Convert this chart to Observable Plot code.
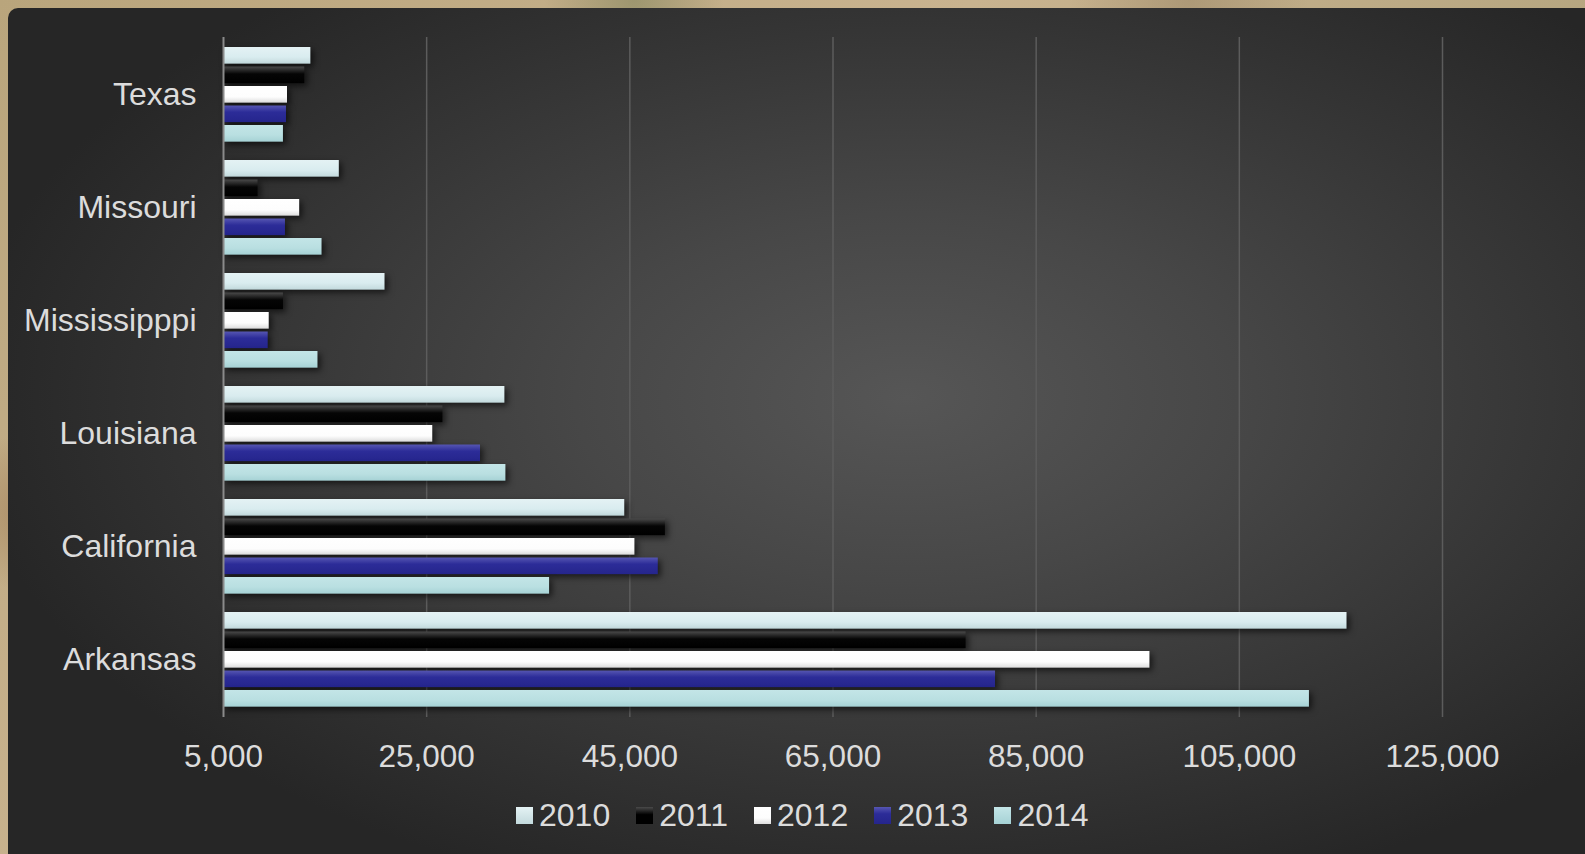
<!DOCTYPE html>
<html>
<head>
<meta charset="utf-8">
<script src="https://cdn.jsdelivr.net/npm/d3@7"></script>
<script src="https://cdn.jsdelivr.net/npm/@observablehq/plot@0.6"></script>
<style>
html, body { margin: 0; padding: 0; width: 1585px; height: 854px; overflow: hidden;
  background:
    radial-gradient(circle at 5% 20%, rgba(120,130,90,0.5) 0, rgba(120,130,90,0) 60px),
    radial-gradient(circle at 2% 60%, rgba(150,110,70,0.5) 0, rgba(150,110,70,0) 80px),
    radial-gradient(circle at 40% 0%, rgba(110,120,80,0.45) 0, rgba(110,120,80,0) 90px),
    radial-gradient(circle at 75% 0%, rgba(140,120,90,0.4) 0, rgba(140,120,90,0) 120px),
    linear-gradient(135deg, #b9a57c 0%, #c9b38f 40%, #b3a47e 70%, #c6ad88 100%);
  font-family: "Liberation Sans", Arial, sans-serif; }
#panel { position: absolute; left: 8px; top: 8px; width: 1577px; height: 846px; border-top-left-radius: 10px;
  background: radial-gradient(ellipse 60% 62% at 57% 46%, #565656 0%, #474747 35%, #353535 70%, #262626 100%); }
#chart { position: absolute; left: 0; top: 0; }
#chart g[aria-label="bar"] { filter: drop-shadow(3px 3px 3px rgba(0,0,0,0.6)); }
#legend { position: absolute; left: 516px; top: 797px; display: flex; align-items: center; color: #dcdcdc; font-size: 32px; }
#legend .item { display: flex; align-items: center; margin-right: 26px; }
#legend .sw { width: 17px; height: 17px; margin-right: 6px; }
#defs { position: absolute; width: 0; height: 0; }
</style>
</head>
<body>
<svg id="defs" width="0" height="0">
  <defs>
    <linearGradient id="g2010" x1="0" y1="0" x2="0" y2="1">
      <stop offset="0" stop-color="#e4f2f4"/><stop offset="0.6" stop-color="#d9ecef"/><stop offset="1" stop-color="#c3dadd"/>
    </linearGradient>
    <linearGradient id="g2011" x1="0" y1="0" x2="0" y2="1">
      <stop offset="0" stop-color="#4a4a4a"/><stop offset="0.45" stop-color="#050505"/><stop offset="1" stop-color="#000000"/>
    </linearGradient>
    <linearGradient id="g2012" x1="0" y1="0" x2="0" y2="1">
      <stop offset="0" stop-color="#ffffff"/><stop offset="0.65" stop-color="#fdfdfd"/><stop offset="1" stop-color="#dedede"/>
    </linearGradient>
    <linearGradient id="g2013" x1="0" y1="0" x2="0" y2="1">
      <stop offset="0" stop-color="#5656b2"/><stop offset="0.4" stop-color="#2c2c98"/><stop offset="1" stop-color="#25258c"/>
    </linearGradient>
    <linearGradient id="g2014" x1="0" y1="0" x2="0" y2="1">
      <stop offset="0" stop-color="#c3e5e7"/><stop offset="0.6" stop-color="#b9dfe1"/><stop offset="1" stop-color="#a6d2d5"/>
    </linearGradient>
  </defs>
</svg>
<div id="panel"></div>
<div id="chart"></div>
<div id="legend"></div>
<script>
const states = ["Texas", "Missouri", "Mississipppi", "Louisiana", "California", "Arkansas"];
const years = ["2010", "2011", "2012", "2013", "2014"];
const v2010 = [13600, 16400, 20900, 32700, 44500, 115600];
const v2011 = [13000, 8400, 10900, 26600, 48500, 78100];
const v2012 = [11300, 12500, 9500, 25600, 45500, 96200];
const v2013 = [11200, 11100, 9400, 30300, 47800, 81000];
const v2014 = [10900, 14700, 14300, 32800, 37100, 111900];
const xTicks = [5000, 25000, 45000, 65000, 85000, 105000, 125000];

const series = {"2010": v2010, "2011": v2011, "2012": v2012, "2013": v2013, "2014": v2014};
const rows = years.flatMap(yr => states.map((s, j) => ({state: s, year: yr, value: series[yr][j]})));

const fills = {
  "2010": "url(#g2010)", "2011": "url(#g2011)", "2012": "url(#g2012)", "2013": "url(#g2013)", "2014": "url(#g2014)"
};
const swatchCss = {
  "2010": "linear-gradient(#e4f2f4, #c3dadd)",
  "2011": "linear-gradient(#4a4a4a, #000 45%, #000)",
  "2012": "linear-gradient(#fff, #fdfdfd 65%, #dedede)",
  "2013": "linear-gradient(#5656b2, #2c2c98 40%, #25258c)",
  "2014": "linear-gradient(#c3e5e7, #a6d2d5)"
};

const W = 1585, H = 775, mT = 37, mB = 58, mL = 223, mR = 143;
const bandStep = (H - mT - mB) / states.length;
const barH = 17, barStep = 19.5, top0 = 9;

const barMarks = years.map((yr, i) => Plot.barX(rows.filter(d => d.year === yr), {
  y: "state",
  x1: () => 5000,
  x2: "value",
  fill: fills[yr],
  insetTop: top0 + barStep * i,
  insetBottom: bandStep - top0 - barStep * i - barH
}));

const chart = Plot.plot({
  width: W,
  height: H,
  marginTop: mT,
  marginBottom: mB,
  marginLeft: mL,
  marginRight: mR,
  style: {background: "transparent", color: "#dcdcdc", fontFamily: "'Liberation Sans', Arial, sans-serif", fontSize: "31px"},
  x: {domain: [5000, 125000], axis: null},
  y: {domain: states, padding: 0, axis: null},
  marks: [
    Plot.ruleX(xTicks.slice(1), {stroke: "#5c5c5c", strokeWidth: 1.5}),
    ...barMarks,
    Plot.ruleX([5000], {stroke: "#8a8a8a", strokeWidth: 2}),
    Plot.axisX(xTicks, {anchor: "bottom", tickSize: 0, tickPadding: 27, tickFormat: d3.format(","), label: null, fontSize: 31.5}),
    Plot.axisY(states, {anchor: "left", tickSize: 0, tickPadding: 27, label: null, fontSize: 32})
  ]
});
document.getElementById("chart").appendChild(chart);

const legend = document.getElementById("legend");
years.forEach(yr => {
  const item = document.createElement("div");
  item.className = "item";
  const sw = document.createElement("div");
  sw.className = "sw";
  sw.style.background = swatchCss[yr];
  const t = document.createElement("span");
  t.textContent = yr;
  item.appendChild(sw);
  item.appendChild(t);
  legend.appendChild(item);
});
</script>
</body>
</html>
